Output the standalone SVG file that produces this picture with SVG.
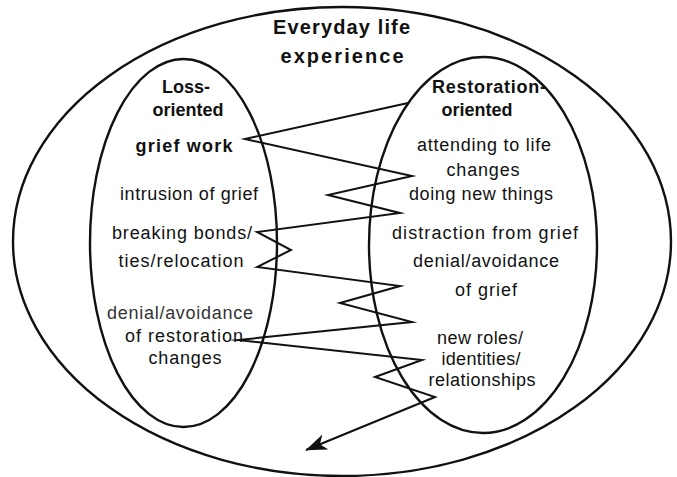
<svg xmlns="http://www.w3.org/2000/svg" width="677" height="477" viewBox="0 0 677 477">
<defs>
<style>
.ring{fill:none;stroke:#111;stroke-width:2.4}
.t{font-family:"Liberation Sans",Arial,sans-serif;font-size:18px;fill:#111;text-anchor:middle}
.b{font-weight:bold}
.title{font-size:20px}
.zig{fill:none;stroke:#111;stroke-width:2;stroke-linejoin:miter;stroke-miterlimit:20}
</style>
<marker id="arrow" viewBox="0 0 22 18" refX="21" refY="9" markerWidth="22" markerHeight="18" orient="auto" markerUnits="userSpaceOnUse">
<path d="M0,1 L21.5,9 L0,17 L6,9 Z" fill="#111"/>
</marker>
</defs>
<rect width="677" height="477" fill="#fff"/>
<g id="everyday-life">
<ellipse class="ring" cx="342" cy="241.5" rx="329" ry="234.5"/>
<text class="t b title" x="341.5" y="34" textLength="137" lengthAdjust="spacing">Everyday life</text>
<text class="t b title" x="342" y="63" textLength="123" lengthAdjust="spacing">experience</text>
</g>
<g id="loss-oriented">
<ellipse class="ring" cx="183.5" cy="243" rx="93.5" ry="184"/>
<text class="t b" x="186" y="93">Loss-</text>
<text class="t b" x="188" y="116">oriented</text>
<text class="t b" x="184" y="152" textLength="97" lengthAdjust="spacing">grief work</text>
<text class="t" x="189" y="200" textLength="138" lengthAdjust="spacing">intrusion of grief</text>
<text class="t" x="182" y="239" textLength="140" lengthAdjust="spacing">breaking bonds/</text>
<text class="t" x="181" y="267" textLength="125" lengthAdjust="spacing">ties/relocation</text>
<text class="t" x="180" y="319" textLength="146" lengthAdjust="spacing" style="fill:#333">denial/avoidance</text>
<text class="t" x="184" y="342" textLength="118" lengthAdjust="spacing">of restoration</text>
<text class="t" x="185" y="364" textLength="73" lengthAdjust="spacing">changes</text>
</g>
<g id="restoration-oriented">
<ellipse class="ring" cx="483" cy="245" rx="114" ry="188"/>
<text class="t b" x="489" y="93" textLength="114" lengthAdjust="spacing">Restoration-</text>
<text class="t b" x="477" y="116">oriented</text>
<text class="t" x="484" y="151" textLength="134" lengthAdjust="spacing">attending to life</text>
<text class="t" x="483" y="176" textLength="73" lengthAdjust="spacing">changes</text>
<text class="t" x="481" y="200" textLength="144" lengthAdjust="spacing">doing new things</text>
<text class="t" x="485" y="239" textLength="186" lengthAdjust="spacing">distraction from grief</text>
<text class="t" x="486" y="267" textLength="146" lengthAdjust="spacing">denial/avoidance</text>
<text class="t" x="486" y="296" textLength="62" lengthAdjust="spacing">of grief</text>
<text class="t" x="480" y="344" textLength="86" lengthAdjust="spacing">new roles/</text>
<text class="t" x="481" y="365" textLength="79" lengthAdjust="spacing">identities/</text>
<text class="t" x="482" y="386" textLength="107" lengthAdjust="spacing">relationships</text>
</g>
<g id="connectors">
<polyline class="zig" marker-end="url(#arrow)" points="408,103 245,139 412,176 328,195 400,213 257,232 291,250 257,267 400,286 340,303 412,322 238,340 422,360 375,377 435,397 306,450"/>
</g>
</svg>
